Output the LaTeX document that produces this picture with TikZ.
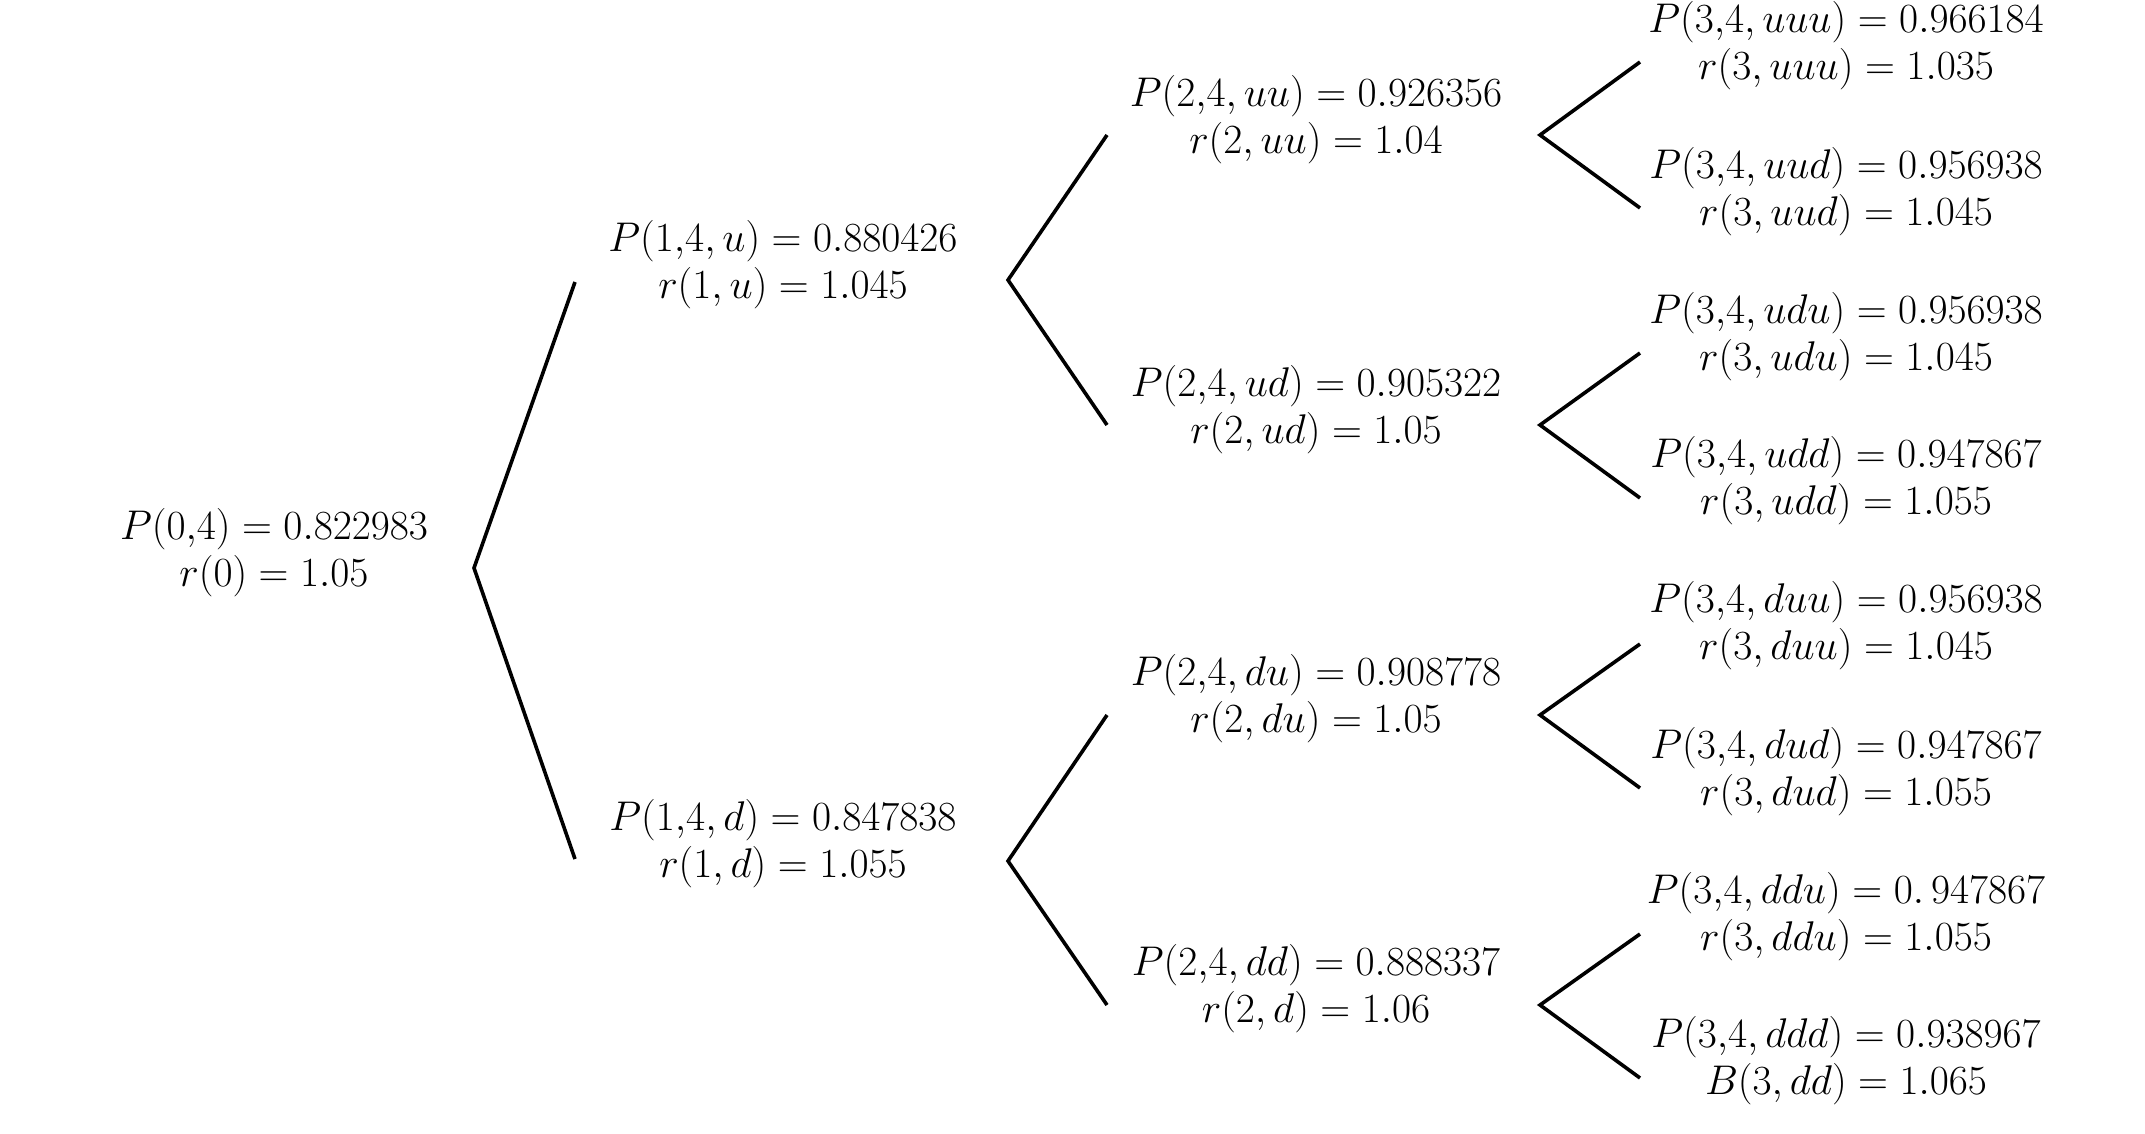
\documentclass[tikz,border=0pt]{standalone}
\usepackage{amsmath}
\begin{document}
\begin{tikzpicture}[x=0.5pt,y=-0.5pt,
  lbl/.style={align=center, font=\fontsize{20}{23.5}\selectfont, inner sep=0pt},
  br/.style={line width=1.8pt, line cap=butt, line join=miter}]
\useasboundingbox (0,0) rectangle (2145,1134);
% text nodes
\node[lbl] (n0) at (274,553) {$P(0{,}4) = 0.822983$\\ $r(0) = 1.05$};
\node[lbl] (nu) at (783,265) {$P(1{,}4,u) = 0.880426$\\ $r(1,u) = 1.045$};
\node[lbl] (nd) at (783,844) {$P(1{,}4,d) = 0.847838$\\ $r(1,d) = 1.055$};
\node[lbl] (nuu) at (1316,120) {$P(2{,}4,uu) = 0.926356$\\ $r(2,uu) = 1.04$};
\node[lbl] (nud) at (1316,410) {$P(2{,}4,ud) = 0.905322$\\ $r(2,ud) = 1.05$};
\node[lbl] (ndu) at (1316,699) {$P(2{,}4,du) = 0.908778$\\ $r(2,du) = 1.05$};
\node[lbl] (ndd) at (1316,989) {$P(2{,}4,dd) = 0.888337$\\ $r(2,d) = 1.06$};
\node[lbl] (nuuu) at (1846,46) {$P(3{,}4,uuu) = 0.966184$\\ $r(3,uuu) = 1.035$};
\node[lbl] (nuud) at (1846,192) {$P(3{,}4,uud) = 0.956938$\\ $r(3,uud) = 1.045$};
\node[lbl] (nudu) at (1846,337) {$P(3{,}4,udu) = 0.956938$\\ $r(3,udu) = 1.045$};
\node[lbl] (nudd) at (1846,481) {$P(3{,}4,udd) = 0.947867$\\ $r(3,udd) = 1.055$};
\node[lbl] (nduu) at (1846,626) {$P(3{,}4,duu) = 0.956938$\\ $r(3,duu) = 1.045$};
\node[lbl] (ndud) at (1846,772) {$P(3{,}4,dud) = 0.947867$\\ $r(3,dud) = 1.055$};
\node[lbl] (nddu) at (1846,917) {$P(3{,}4,ddu) = 0.\,947867$\\ $r(3,ddu) = 1.055$};
\node[lbl] (nddd) at (1846,1061) {$P(3{,}4,ddd) = 0.938967$\\ $B(3,dd) = 1.065$};
% apexes and branch ends
\coordinate (a0) at (474,568);
\coordinate (e0u) at (575,282);
\coordinate (e0d) at (575,859);
\coordinate (au) at (1008,280);
\coordinate (ad) at (1008,861);
\coordinate (euu) at (1107,135);
\coordinate (eud) at (1107,425);
\coordinate (edu) at (1107,715);
\coordinate (edd) at (1107,1005);
\coordinate (auu) at (1540,135);
\coordinate (aud) at (1540,425);
\coordinate (adu) at (1540,715);
\coordinate (add) at (1540,1005);
\coordinate (euuu) at (1640,62);
\coordinate (euud) at (1640,208);
\coordinate (eudu) at (1640,353);
\coordinate (eudd) at (1640,498);
\coordinate (eduu) at (1640,644);
\coordinate (edud) at (1640,788);
\coordinate (eddu) at (1640,934);
\coordinate (eddd) at (1640,1078);
% branches
\draw[br] (e0u) -- (a0) -- (e0d);
\draw[br] (euu) -- (au) -- (eud);
\draw[br] (edu) -- (ad) -- (edd);
\draw[br] (euuu) -- (auu) -- (euud);
\draw[br] (eudu) -- (aud) -- (eudd);
\draw[br] (eduu) -- (adu) -- (edud);
\draw[br] (eddu) -- (add) -- (eddd);
\end{tikzpicture}
\end{document}
